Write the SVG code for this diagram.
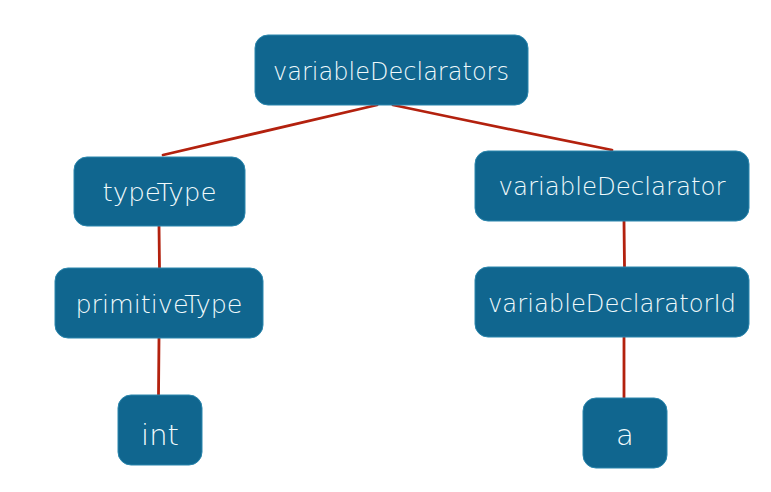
<svg xmlns="http://www.w3.org/2000/svg" width="771" height="492" viewBox="0 0 771 492">
<style>
.box{fill:#10668f;stroke:#2a86ad;stroke-width:1}
.lbl{font-family:"DejaVu Sans","Liberation Sans",sans-serif;font-weight:200;font-size:24px;fill:#f0fafc;text-anchor:middle}
.big{font-size:29px}
.edge{stroke:#b3210e;stroke-width:2.8;fill:none;stroke-linecap:round}
</style>
<rect width="771" height="492" fill="#ffffff"/>
<g id="connectors">
<path class="edge" d="M377 105 Q270 130 163 155"/>
<path class="edge" d="M393 105 Q502 128 612 150"/>
<path class="edge" d="M159 226 L159.5 268"/>
<path class="edge" d="M159 338 L158.5 395"/>
<path class="edge" d="M624 221 L624.5 267"/>
<path class="edge" d="M624 337 L624 398"/>
</g>
<g id="variableDeclarators">
<rect class="box" x="255" y="35" width="273" height="70" rx="13"/>
<text class="lbl" x="391" y="80" textLength="236" lengthAdjust="spacingAndGlyphs">variableDeclarators</text>
</g>
<g id="typeType">
<rect class="box" x="74" y="157" width="171" height="69" rx="13"/>
<text class="lbl" x="159.5" y="201" textLength="114" lengthAdjust="spacingAndGlyphs">typeType</text>
</g>
<g id="variableDeclarator">
<rect class="box" x="475" y="151" width="274" height="70" rx="13"/>
<text class="lbl" x="612" y="195" textLength="227" lengthAdjust="spacingAndGlyphs">variableDeclarator</text>
</g>
<g id="primitiveType">
<rect class="box" x="55" y="268" width="208" height="70" rx="13"/>
<text class="lbl" x="159" y="313" textLength="167" lengthAdjust="spacingAndGlyphs">primitiveType</text>
</g>
<g id="variableDeclaratorId">
<rect class="box" x="475" y="267" width="274" height="70" rx="13"/>
<text class="lbl" x="612" y="312" textLength="248" lengthAdjust="spacingAndGlyphs">variableDeclaratorId</text>
</g>
<g id="int">
<rect class="box" x="118" y="395" width="84" height="70" rx="13"/>
<text class="lbl big" x="160" y="445">int</text>
</g>
<g id="a">
<rect class="box" x="583" y="398" width="84" height="70" rx="13"/>
<text class="lbl big" x="625" y="445">a</text>
</g>
</svg>
